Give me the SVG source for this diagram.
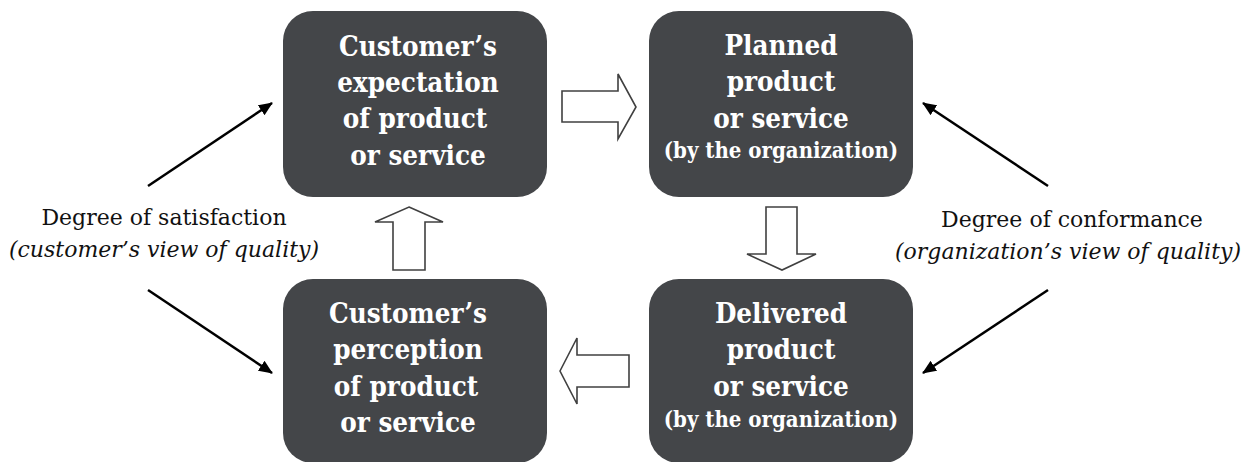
<svg xmlns="http://www.w3.org/2000/svg" width="1257" height="462" viewBox="0 0 1257 462">
  <style>
    .box { fill: #444649; }
    .bt { font-family: "DejaVu Serif Condensed", "DejaVu Serif", "Liberation Serif", serif; font-stretch: condensed; font-weight: bold; font-size: 27.5px; fill: #ffffff; text-anchor: middle; }
    .bs { font-size: 22px; }
    .lbl { font-family: "DejaVu Serif", "Liberation Serif", serif; font-size: 22px; fill: #111111; text-anchor: middle; }
    .it { font-style: italic; }
    .blk { fill: #ffffff; stroke: #404040; stroke-width: 1.6; stroke-linejoin: miter; }
    .ln { stroke: #000000; stroke-width: 2.5; fill: none; marker-end: url(#ah); }
  </style>
  <defs>
    <marker id="ah" markerUnits="userSpaceOnUse" markerWidth="14" markerHeight="12" refX="13" refY="6" orient="auto">
      <path d="M0,0 L14,6 L0,12 Z" fill="#000000"/>
    </marker>
  </defs>
  <rect width="1257" height="462" fill="#ffffff"/>

  <g id="expectation">
    <rect class="box" x="283" y="11" width="264" height="186" rx="30"/>
    <text class="bt" x="418" y="56">Customer’s</text>
    <text class="bt" x="418" y="92">expectation</text>
    <text class="bt" x="415" y="128">of product</text>
    <text class="bt" x="418" y="165">or service</text>
  </g>

  <g id="planned">
    <rect class="box" x="649" y="11" width="264" height="186" rx="30"/>
    <text class="bt" x="781" y="55">Planned</text>
    <text class="bt" x="781" y="91">product</text>
    <text class="bt" x="781" y="128">or service</text>
    <text class="bt bs" x="781" y="158">(by the organization)</text>
  </g>

  <g id="perception">
    <rect class="box" x="283" y="279" width="264" height="184" rx="30"/>
    <text class="bt" x="408" y="323">Customer’s</text>
    <text class="bt" x="408" y="359">perception</text>
    <text class="bt" x="406" y="396">of product</text>
    <text class="bt" x="408" y="432">or service</text>
  </g>

  <g id="delivered">
    <rect class="box" x="649" y="279" width="264" height="184" rx="30"/>
    <text class="bt" x="781" y="323">Delivered</text>
    <text class="bt" x="781" y="359">product</text>
    <text class="bt" x="781" y="396">or service</text>
    <text class="bt bs" x="781" y="427">(by the organization)</text>
  </g>

  <g id="satisfaction">
    <text class="lbl" x="164" y="225">Degree of satisfaction</text>
    <text class="lbl it" x="164" y="257">(customer’s view of quality)</text>
  </g>

  <g id="conformance">
    <text class="lbl" x="1072" y="227">Degree of conformance</text>
    <text class="lbl it" x="1068" y="259">(organization’s view of quality)</text>
  </g>

  <g id="connectors">
    <polygon class="blk" points="562,91 618,91 618,74 636,107 618,139 618,122 562,122"/>
    <polygon class="blk" points="766,207 797,207 797,254 816,254 782,270 747,254 766,254"/>
    <polygon class="blk" points="409,207 443,222 425,222 425,270 393,270 393,222 375,222"/>
    <polygon class="blk" points="560,371 577,338 577,355 629,355 629,387 577,387 577,404"/>
    <line class="ln" x1="148" y1="186" x2="272" y2="103"/>
    <line class="ln" x1="148" y1="290" x2="272" y2="373"/>
    <line class="ln" x1="1048" y1="186" x2="923" y2="103"/>
    <line class="ln" x1="1048" y1="290" x2="923" y2="373"/>
  </g>
</svg>
